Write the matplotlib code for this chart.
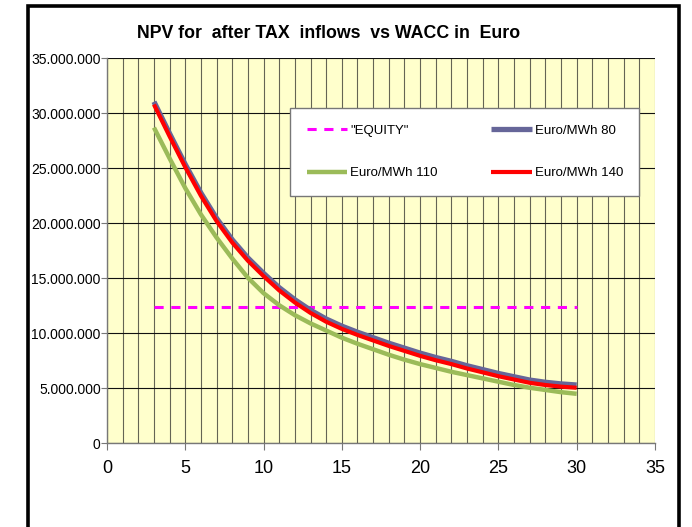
import numpy as np
import matplotlib.pyplot as plt
from matplotlib.patches import Rectangle
from matplotlib.ticker import FuncFormatter, MultipleLocator

plt.rcParams['font.family'] = ['Liberation Sans', 'DejaVu Sans']

# WACC (%) and NPV values (million Euro)
wacc = [3, 4, 5, 6, 7, 8, 9, 10, 11, 12, 13, 14, 15, 16, 17, 18, 19, 20,
        21, 22, 23, 24, 25, 26, 27, 28, 29, 30]
npv_80 = [31.05, 28.15, 25.35, 22.75, 20.45, 18.5, 16.85, 15.45, 14.15, 13.05,
          12.1, 11.3, 10.65, 10.1, 9.6, 9.1, 8.65, 8.2, 7.8, 7.45,
          7.05, 6.7, 6.35, 6.05, 5.75, 5.55, 5.4, 5.3]
npv_110 = [28.7, 25.9, 23.2, 20.8, 18.7, 16.8, 15.05, 13.65, 12.55, 11.65,
           10.9, 10.25, 9.6, 9.05, 8.55, 8.05, 7.6, 7.2, 6.85, 6.5,
           6.2, 5.9, 5.6, 5.3, 5.05, 4.85, 4.65, 4.5]
npv_140 = [30.8, 27.9, 25.1, 22.5, 20.2, 18.25, 16.6, 15.2, 13.9, 12.8,
           11.85, 11.05, 10.4, 9.85, 9.35, 8.85, 8.4, 7.95, 7.55, 7.2,
           6.8, 6.45, 6.1, 5.8, 5.5, 5.3, 5.15, 5.05]
equity = [12.4] * len(wacc)

scale = 1e6
fig = plt.figure(figsize=(6.92, 5.27), dpi=100)
ax = fig.add_axes([0.1546, 0.1588, 0.7919, 0.7306])
ax.set_facecolor('#ffffcc')

eq_line, = ax.plot(wacc, np.array(equity) * scale, color='#ff00ff', lw=2.2,
                   ls=(0, (3, 2.5)), label='"EQUITY"')
g_line, = ax.plot(wacc, np.array(npv_110) * scale, color='#9bbb59', lw=3.2,
                  label='Euro/MWh 110', solid_capstyle='butt')
b_line, = ax.plot(wacc, np.array(npv_80) * scale, color='#666699', lw=3.8,
                  label='Euro/MWh 80', solid_capstyle='butt')
r_line, = ax.plot(wacc, np.array(npv_140) * scale, color='#ff0000', lw=3.0,
                  label='Euro/MWh 140', solid_capstyle='butt')

ax.set_xlim(0, 35)
ax.set_ylim(0, 35e6)
ax.xaxis.set_major_locator(MultipleLocator(5))
ax.xaxis.set_minor_locator(MultipleLocator(1))
ax.yaxis.set_major_locator(MultipleLocator(5e6))
ax.yaxis.set_major_formatter(FuncFormatter(lambda v, p: f"{v:,.0f}".replace(',', '.')))

ax.grid(True, which='minor', axis='x', color='#222222', lw=0.8, alpha=0.7)
ax.grid(True, which='major', axis='x', color='#222222', lw=0.8, alpha=0.7)
ax.grid(True, which='major', axis='y', color='#111111', lw=0.8)
ax.set_axisbelow(True)

for s in ['top', 'right']:
    ax.spines[s].set_visible(False)
for s in ['left', 'bottom']:
    ax.spines[s].set_color('#777777')
    ax.spines[s].set_linewidth(1.0)

ax.tick_params(axis='y', labelsize=10, length=4, color='#777777', pad=0.5)
ax.tick_params(axis='x', which='major', labelsize=13, length=5, color='#777777', pad=7)
ax.tick_params(axis='x', which='minor', length=0)

leg = ax.legend(handles=[eq_line, g_line, b_line, r_line], ncol=2,
                loc='upper left', bbox_to_anchor=(0.334, 0.871),
                fontsize=9.5, frameon=True, fancybox=False,
                edgecolor='#777777', framealpha=1, handlelength=3.1,
                handletextpad=0.2, columnspacing=4.05, labelspacing=2.3,
                borderpad=1.25, borderaxespad=0)
leg.get_frame().set_linewidth(1.0)

fig.text(0.475, 0.936, 'NPV for  after TAX  inflows  vs WACC in  Euro',
         ha='center', va='center', fontsize=12.8, fontweight='bold')

# outer chart border
fig.patches.append(Rectangle((28 / 692, -0.05), (679 - 28) / 692, 1.05 - 5.5 / 527,
                             transform=fig.transFigure, fill=False,
                             edgecolor='black', lw=2.6))

fig.savefig('out.png', dpi=100)
